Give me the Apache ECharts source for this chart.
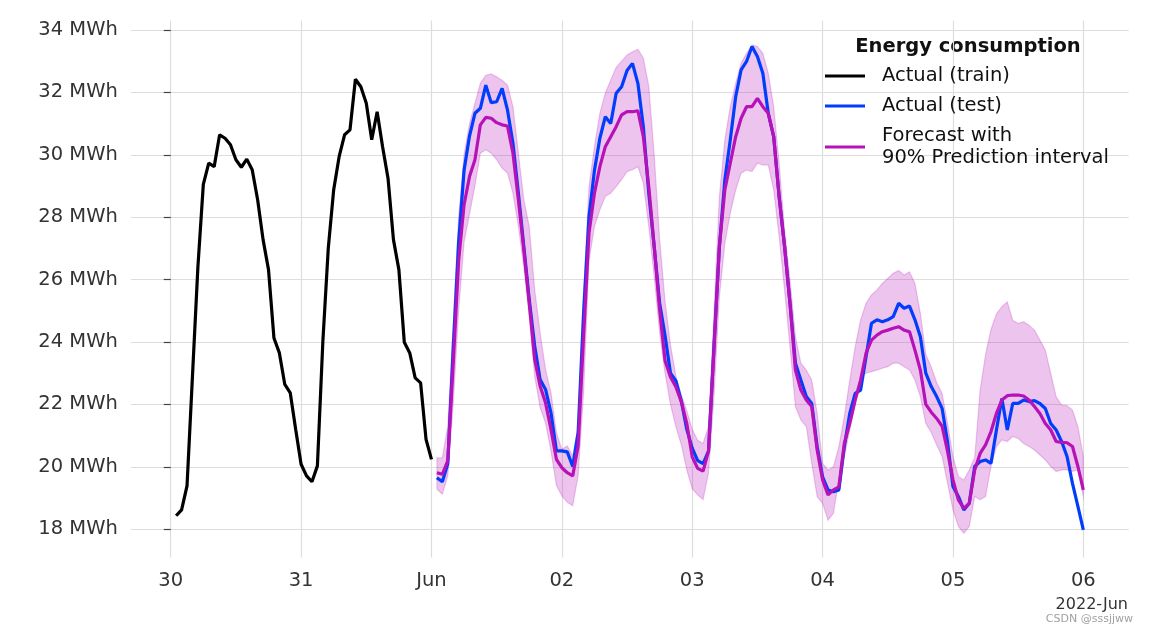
<!DOCTYPE html>
<html><head><meta charset="utf-8">
<script src="https://cdn.jsdelivr.net/npm/echarts@6/dist/echarts.min.js"></script>
<style>html,body{margin:0;padding:0;background:#fff}#c{width:1149px;height:636px}</style>
</head><body><div id="c"></div>
<script>
// hours counted from 2022-05-30 00:00
const trainStartHour = 1;
const testStartHour = 49;
const xTickHours = [0, 24, 48, 72, 96, 120, 144, 168];
const xTickLabels = ['30', '31', 'Jun', '02', '03', '04', '05', '06'];
const yTickValues = [18, 20, 22, 24, 26, 28, 30, 32, 34];

const trainValues = [18.43, 18.62, 19.39, 22.9, 26.4, 29.05, 29.73, 29.62, 30.64, 30.53,
 30.32, 29.84, 29.6, 29.86, 29.52, 28.56, 27.28, 26.32, 24.13, 23.65,
 22.64, 22.37, 21.2, 20.08, 19.71, 19.52, 20.03, 24.0, 27.0, 28.88,
 29.94, 30.64, 30.8, 32.42, 32.18, 31.65, 30.48, 31.38, 30.26, 29.25,
 27.28, 26.32, 23.99, 23.65, 22.85, 22.69, 20.88, 20.24];

const testValues = [19.65, 19.52, 20.1, 23.8, 27.2, 29.5, 30.6, 31.33, 31.49, 32.23,
 31.67, 31.7, 32.13, 31.43, 30.37, 28.77, 27.06, 25.36, 23.87, 22.8,
 22.48, 21.73, 20.51, 20.51, 20.48, 20.01, 21.1, 24.93, 28.02, 29.5,
 30.53, 31.22, 31.0, 31.97, 32.18, 32.7, 32.93, 32.29, 30.9, 28.77,
 27.06, 25.25, 24.2, 23.0, 22.75, 22.1, 21.2, 20.6, 20.2, 20.1,
 20.5, 23.85, 27.06, 29.19, 30.47, 31.86, 32.72, 32.99, 33.47, 33.15,
 32.61, 31.33, 30.58, 28.66, 27.06, 25.24, 23.32, 22.78, 22.25, 22.03,
 20.65, 19.68, 19.26, 19.2, 19.26, 20.65, 21.71, 22.35, 22.46, 23.53,
 24.6, 24.71, 24.65, 24.71, 24.81, 25.24, 25.08, 25.15, 24.71, 24.17,
 23.0, 22.57, 22.25, 21.87, 20.8,
 19.37, 19.05, 18.62, 18.83, 20.01, 20.17, 20.22, 20.11, 21.18, 22.19,
 21.18, 22.03, 22.03, 22.14, 22.09, 22.12, 22.03, 21.87, 21.39, 21.18,
 20.81, 20.33, 19.47, 18.73, 17.98];

const forecastValues = [19.81, 19.76, 20.19, 23.3, 26.6, 28.4, 29.3, 29.84, 30.96, 31.2,
 31.17, 31.03, 30.96, 30.92, 30.05, 28.56, 26.96, 25.25, 23.44, 22.59,
 22.05, 21.2, 20.24, 19.97, 19.81, 19.71, 20.67, 24.19, 27.49, 28.77,
 29.62, 30.26, 30.58, 30.9, 31.28, 31.38, 31.38, 31.41, 30.58, 28.98,
 27.06, 25.04, 23.4, 22.88, 22.56, 22.08, 21.39, 20.32, 19.95, 19.86,
 20.5, 23.74, 27.06, 28.87, 29.73, 30.58, 31.17, 31.54, 31.54, 31.81,
 31.54, 31.33, 30.58, 28.66, 27.06, 25.24, 23.1, 22.46, 22.14, 21.93,
 20.54, 19.58, 19.1, 19.26, 19.36, 20.75, 21.39, 22.14, 22.78, 23.64,
 24.06, 24.22, 24.33, 24.38, 24.44, 24.49, 24.38, 24.33, 23.74, 23.1,
 22.0, 21.75, 21.55, 21.3, 20.5,
 19.58, 18.94, 18.67, 18.83, 19.9, 20.43, 20.7, 21.13, 21.71, 22.14,
 22.28, 22.3, 22.3, 22.27, 22.14, 21.93, 21.71, 21.39, 21.18, 20.81,
 20.78, 20.77, 20.65, 20.01, 19.26];

const upperValues = [20.29, 20.29, 21.3, 24.5, 28.0, 30.0, 31.0, 31.65, 32.29, 32.55,
 32.59, 32.5, 32.39, 32.23, 31.54, 30.05, 28.56, 27.7, 25.68, 24.29,
 23.12, 22.37, 21.09, 20.56, 20.67, 20.35, 21.31, 25.57, 28.98, 30.26,
 31.33, 31.97, 32.4, 32.8, 33.0, 33.2, 33.3, 33.38, 33.1, 32.2,
 30.0, 27.3, 25.3, 23.9, 22.9, 22.3, 21.8, 21.2, 20.85, 20.75,
 21.3, 24.92, 28.66, 30.47, 31.54, 32.29, 32.93, 33.25, 33.52, 33.47,
 33.25, 32.61, 31.54, 29.73, 27.59, 25.99, 24.17, 23.32, 23.1, 22.78,
 21.71, 20.11, 19.9, 20.0, 20.65, 21.61, 22.78, 23.85, 24.71, 25.24,
 25.51, 25.67, 25.88, 26.04, 26.2, 26.29, 26.15, 26.25, 25.88, 24.92,
 23.6, 23.2, 22.7, 22.35, 21.39,
 20.33, 19.69, 19.58, 19.9, 20.3, 22.46, 23.6, 24.4, 24.9, 25.13,
 25.29, 24.7, 24.59, 24.65, 24.54, 24.38, 24.06, 23.74, 22.99, 22.24,
 21.98, 21.96, 21.82, 21.29, 20.33];

const lowerValues = [19.28, 19.12, 19.71, 22.0, 25.0, 27.2, 28.1, 29.0, 30.05, 30.16,
 30.05, 29.84, 29.57, 29.41, 28.77, 27.7, 26.4, 24.8, 22.9, 21.9,
 21.4, 20.5, 19.4, 19.07, 18.86, 18.75, 19.71, 22.37, 26.6, 27.7,
 28.24, 28.66, 28.77, 28.98, 29.2, 29.46, 29.52, 29.62, 29.09, 27.7,
 26.1, 24.3, 23.0, 22.0, 21.28, 20.7, 19.9, 19.3, 19.1, 18.95,
 19.8, 22.25, 25.45, 27.16, 28.12, 28.87, 29.41, 29.51, 29.46, 29.73,
 29.67, 29.67, 28.87, 27.38, 25.67, 23.85, 21.93, 21.5, 21.29, 20.11,
 19.04, 18.83, 18.29, 18.51, 19.58, 20.32, 21.18, 22.03, 22.89, 23.0,
 23.05, 23.1, 23.16, 23.21, 23.32, 23.32, 23.21, 23.1, 22.78, 22.25,
 21.39, 21.1, 20.7, 20.33, 19.47,
 18.62, 18.09, 17.87, 18.09, 19.05, 18.94, 19.05, 20.01, 20.65, 20.86,
 20.81, 20.97, 20.91, 20.75, 20.65, 20.54, 20.38, 20.22, 20.01, 19.85,
 19.9, 19.9, 19.85, 19.9, 19.05];

const FONT = '"DejaVu Sans", sans-serif';
const trainHours = trainValues.map((v, i) => trainStartHour + i);
const testHours = testValues.map((v, i) => testStartHour + i);

const chart = echarts.init(document.getElementById('c'), null, {renderer: 'canvas'});

const bandSeries = {
  type: 'custom',
  name: 'band',
  silent: true,
  z: 1,
  encode: {x: 0, y: [1, 2]},
  data: testHours.map((h, i) => [h, lowerValues[i], upperValues[i]]),
  renderItem: function (params, api) {
    if (params.dataIndex !== 0) return null;
    const pts = [];
    for (let i = 0; i < testHours.length; i++) pts.push(api.coord([testHours[i], upperValues[i]]));
    for (let i = testHours.length - 1; i >= 0; i--) pts.push(api.coord([testHours[i], lowerValues[i]]));
    return {
      type: 'polygon',
      shape: {points: pts},
      style: {fill: 'rgba(181,18,184,0.25)', stroke: 'rgba(181,18,184,0.22)', lineWidth: 1.2}
    };
  }
};

const option = {
  backgroundColor: '#ffffff',
  animation: false,
  grid: {left: 130.8, right: 20.3, top: 20.6, bottom: 78.4, containLabel: false},
  xAxis: {
    type: 'value', min: -7.35, max: 176.35, minInterval: 24, maxInterval: 24,
    axisLine: {show: false}, axisTick: {show: false},
    axisLabel: {
      customValues: xTickHours,
      formatter: v => xTickLabels[xTickHours.indexOf(v)] || '',
      color: '#333333', fontSize: 19.5, fontFamily: FONT, margin: 13
    },
    splitLine: {show: true, showMinLine: false, showMaxLine: false, lineStyle: {color: '#dddddd', width: 1.2}}
  },
  yAxis: {
    type: 'value', min: 17.09, max: 34.3, minInterval: 2, maxInterval: 2,
    axisLine: {show: false},
    axisTick: {show: true, length: 7, customValues: yTickValues, lineStyle: {color: '#444444', width: 1.2}},
    axisLabel: {
      customValues: yTickValues,
      formatter: v => v + ' MWh',
      color: '#333333', fontSize: 19.5, fontFamily: FONT, margin: 13
    },
    splitLine: {show: true, lineStyle: {color: '#dddddd', width: 1.2}}
  },
  legend: {
    orient: 'vertical', left: 825, top: 65, padding: 0, itemGap: 8,
    icon: 'rect', itemWidth: 40, itemHeight: 3,
    data: ['Actual (train)', 'Actual (test)', 'Forecast'],
    formatter: n => n === 'Forecast' ? 'Forecast with\n90% Prediction interval' : n,
    textStyle: {color: '#111111', fontSize: 19.5, lineHeight: 22, fontFamily: FONT, padding: [0, 0, 0, 12]},
    selectedMode: false
  },
  graphic: [
    {type: 'text', x: 968, y: 47, style: {text: 'Energy consumption', fill: '#111111', font: 'bold 19.5px "DejaVu Sans", sans-serif', textAlign: 'center', textVerticalAlign: 'middle'}},
    {type: 'text', x: 1128, y: 605, style: {text: '2022-Jun', fill: '#333333', font: '16px "DejaVu Sans", sans-serif', textAlign: 'right', textVerticalAlign: 'middle'}},
    {type: 'text', x: 1133, y: 619, style: {text: 'CSDN @sssjjww', fill: '#a0a0a0', font: '11px "DejaVu Sans", sans-serif', textAlign: 'right', textVerticalAlign: 'middle'}}
  ],
  series: [
    {name: 'Actual (train)', type: 'line', showSymbol: false, symbol: 'none', z: 3,
     color: '#000000', lineStyle: {color: '#000000', width: 3.2},
     data: trainHours.map((h, i) => [h, trainValues[i]])},
    {name: 'Actual (test)', type: 'line', showSymbol: false, symbol: 'none', z: 3,
     color: '#003DFD', lineStyle: {color: '#003DFD', width: 3.2},
     data: testHours.map((h, i) => [h, testValues[i]])},
    bandSeries,
    {name: 'Forecast', type: 'line', showSymbol: false, symbol: 'none', z: 4,
     color: '#B512B8', lineStyle: {color: '#B512B8', width: 3.2},
     data: testHours.map((h, i) => [h, forecastValues[i]])}
  ]
};
chart.setOption(option);
</script></body></html>
